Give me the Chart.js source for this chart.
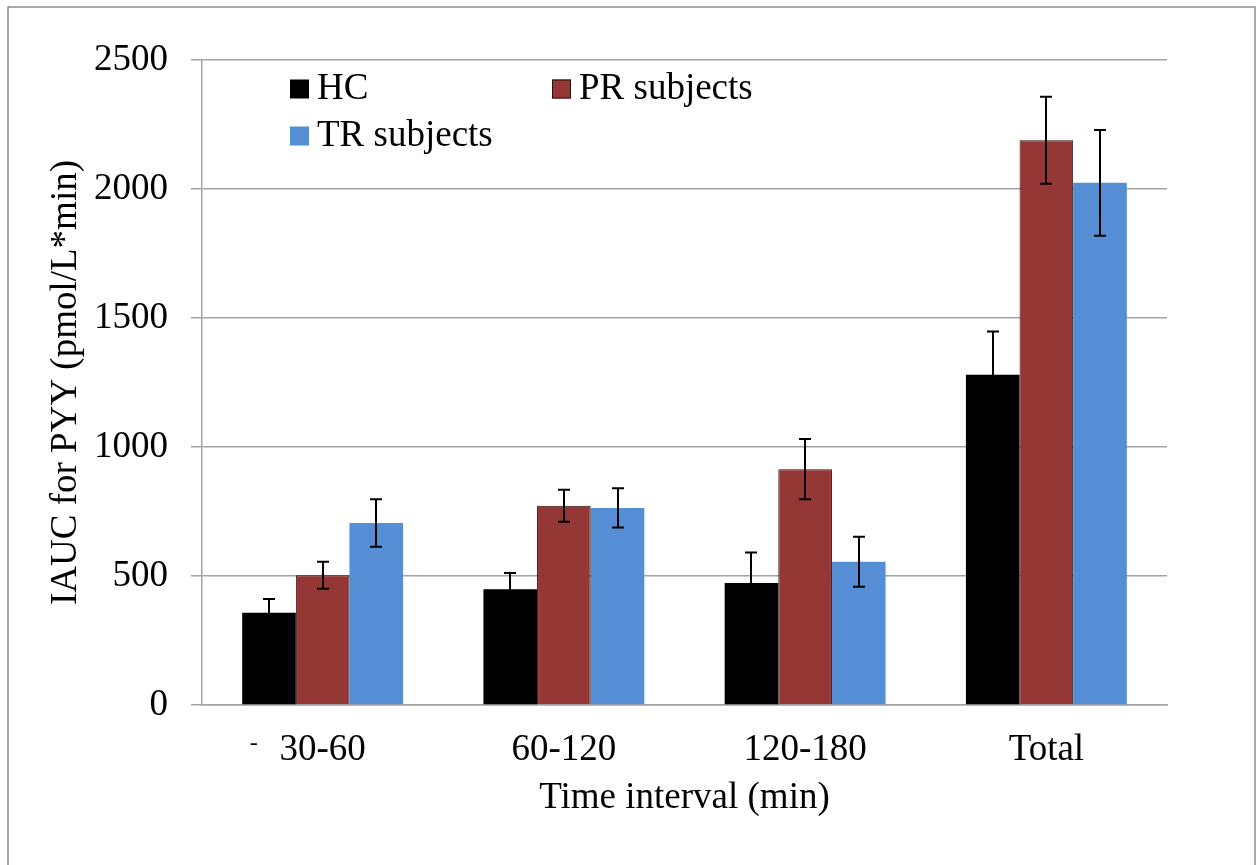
<!DOCTYPE html>
<html><head><meta charset="utf-8">
<script src="https://cdn.jsdelivr.net/npm/chart.js@4/dist/chart.umd.min.js"></script>
<style>html,body{margin:0;padding:0;background:#fff;overflow:hidden}#wrap{width:1258px;height:865px;position:relative}</style>
</head><body><div id="wrap"><canvas id="c" width="1258" height="865"></canvas></div>
<script>
const categories = ['30-60', '60-120', '120-180', 'Total'];
const seriesNames = ['HC', 'PR subjects', 'TR subjects'];
const hcValues = [358, 449, 473, 1280];
const prValues = [503, 772, 914, 2189];
const trValues = [705, 764, 555, 2024];
const hcErrors = [53, 63, 118, 168];
const prErrors = [52, 62, 117, 169];
const trErrors = [92, 76, 97, 205];
const yTicks = [0, 500, 1000, 1500, 2000, 2500];
const yTitle = 'IAUC for PYY (pmol/L*min)';
const xTitle = 'Time interval (min)';
const strayMark = '-';

const FONT = "'Liberation Serif', 'Times New Roman', serif";
const FS = 37;
const GRID = '#a3a3a3';

const errorBars = {
  id: 'errorBars',
  afterDatasetsDraw(chart) {
    const ctx = chart.ctx, ys = chart.scales.y;
    ctx.save();
    ctx.strokeStyle = '#000';
    ctx.lineWidth = 2;
    chart.data.datasets.forEach((ds, i) => {
      const meta = chart.getDatasetMeta(i);
      meta.data.forEach((bar, j) => {
        const v = ds.data[j], e = ds.errors[j];
        const yt = ys.getPixelForValue(v + e), yb = ys.getPixelForValue(v - e);
        const x = Math.round(bar.x);
        ctx.beginPath();
        ctx.moveTo(x, yt); ctx.lineTo(x, yb);
        ctx.moveTo(x - 6, yt); ctx.lineTo(x + 6, yt);
        ctx.moveTo(x - 6, yb); ctx.lineTo(x + 6, yb);
        ctx.stroke();
      });
    });
    ctx.restore();
  }
};

const customLegend = {
  id: 'customLegend',
  afterDraw(chart) {
    const ctx = chart.ctx, a = chart.chartArea;
    const pos = [[a.left + 88, a.top + 29], [a.left + 350, a.top + 29], [a.left + 88, a.top + 76]];
    ctx.save();
    ctx.font = FS + 'px ' + FONT;
    ctx.textBaseline = 'middle';
    ctx.textAlign = 'left';
    chart.data.datasets.forEach((ds, i) => {
      const [x, y] = pos[i];
      ctx.fillStyle = ds.backgroundColor;
      ctx.fillRect(x, y - 9.5, 19, 19);
      if (ds.borderWidth) {
        ctx.strokeStyle = ds.borderColor; ctx.lineWidth = 1;
        ctx.strokeRect(x + 0.5, y - 9, 18, 18);
      }
      ctx.fillStyle = '#000';
      ctx.fillText(ds.label, x + 27, y);
    });
    // stray mark left of first category label
    const xs = chart.scales.x;
    ctx.font = '24px ' + FONT;
    ctx.textAlign = 'center';
    ctx.fillText(strayMark, xs.getPixelForTick(0) - 69, 744);
    // outer frame
    ctx.strokeStyle = '#8c8c8c';
    ctx.lineWidth = 1.5;
    ctx.strokeRect(8, 7, 1247, 880);
    ctx.restore();
  }
};

new Chart(document.getElementById('c'), {
  type: 'bar',
  data: {
    labels: categories,
    datasets: [
      { label: seriesNames[0], data: hcValues, errors: hcErrors, backgroundColor: '#000000', borderWidth: 0 },
      { label: seriesNames[1], data: prValues, errors: prErrors, backgroundColor: '#953735', borderColor: '#2a1010', borderWidth: 1 },
      { label: seriesNames[2], data: trValues, errors: trErrors, backgroundColor: '#558ED5', borderWidth: 0 }
    ]
  },
  options: {
    responsive: false,
    animation: false,
    devicePixelRatio: 1,
    layout: { padding: { left: 0, right: 91, top: 60, bottom: 0 } },
    datasets: { bar: { categoryPercentage: 0.667, barPercentage: 1.0 } },
    plugins: { legend: { display: false }, tooltip: { enabled: false } },
    scales: {
      x: {
        grid: { display: false, drawTicks: false },
        border: { display: true, color: GRID, width: 1.5 },
        ticks: { color: '#000', font: { family: FONT, size: FS }, padding: 23, maxRotation: 0 },
        title: { display: true, text: xTitle, color: '#000', font: { family: FONT, size: FS }, padding: { top: 0, bottom: 45 } },
        afterFit(s) { s.height = 160; }
      },
      y: {
        min: 0, max: 2500,
        afterBuildTicks(s) { s.ticks = yTicks.map(v => ({ value: v })); },
        grid: { color: GRID, lineWidth: 1.5, tickLength: 11, drawTicks: true },
        border: { display: true, color: GRID, width: 1.5 },
        ticks: { color: '#000', font: { family: FONT, size: FS }, padding: 23, callback: v => String(v) },
        title: { display: true, text: yTitle, color: '#000', font: { family: FONT, size: FS }, padding: { top: 44, bottom: 0 } },
        afterFit(s) { s.width = 202; }
      }
    }
  },
  plugins: [errorBars, customLegend]
});
</script>
</body></html>
